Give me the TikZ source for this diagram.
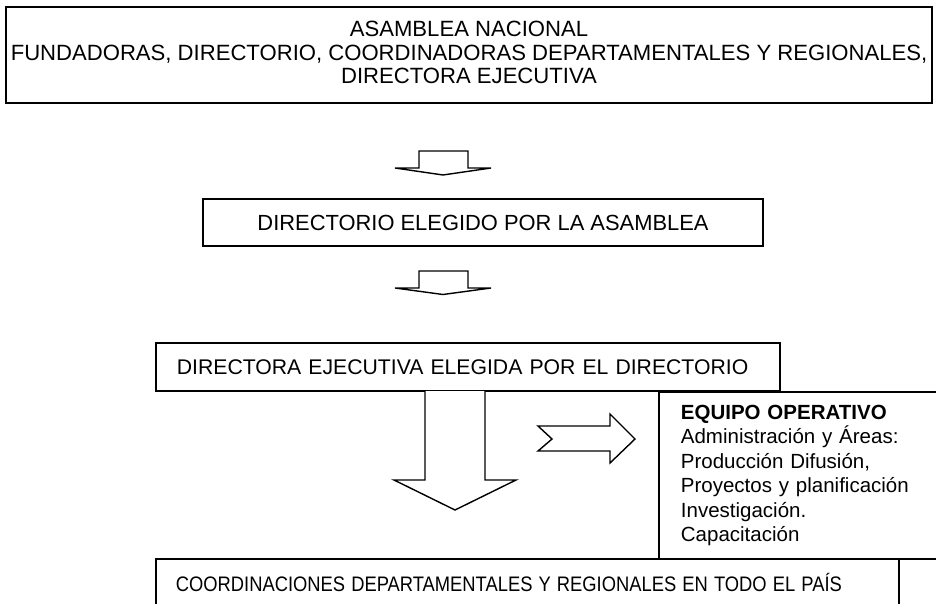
\documentclass[tikz,border=0pt]{standalone}
\usepackage{graphicx}
\usepackage{fontspec}
\setmainfont{Liberation Sans}
\newcommand\fstop{\fontsize{22.1pt}{23.5pt}\selectfont}
\newcommand\fsmid{\fontsize{21.9pt}{23.5pt}\selectfont}
\newcommand\fsdir{\fontsize{21.2pt}{23.5pt}\selectfont}
\newcommand\fsbox{\fontsize{20.5pt}{24.4pt}\selectfont}
\newcommand\fsbottom{\fontsize{21pt}{23.5pt}\selectfont}
\begin{document}
\begin{tikzpicture}[x=1pt,y=-1pt,
  box/.style={draw,line width=1.8pt,inner sep=0pt},
  plain/.style={inner sep=0pt},
  blockarrow/.style={draw,line width=1.4pt,line join=miter}]
\useasboundingbox (0,0) rectangle (936,604);
\clip (0,0) rectangle (936,604);

% top box
\node[box,minimum width=926pt,minimum height=96pt] (asamblea) at (469,55) {};
\node[plain,align=center,font=\fstop] (asambleatext) at (469,52.5)
  {ASAMBLEA NACIONAL\\FUNDADORAS, DIRECTORIO, COORDINADORAS DEPARTAMENTALES Y REGIONALES,\\DIRECTORA EJECUTIVA};

% arrow 1
\draw[blockarrow] (419,168) -- (419,151) -- (468,151) -- (468,168) -- (491,168) -- (443,175) -- (395,168) -- cycle;

% box 2
\node[box,minimum width=560pt,minimum height=47pt,font=\fsmid]
  (directorio) at (483,222.5) {DIRECTORIO ELEGIDO POR LA ASAMBLEA};

% arrow 2
\draw[blockarrow] (419,288) -- (419,271) -- (468,271) -- (468,288) -- (491,288) -- (443,294.5) -- (395,288) -- cycle;

% box 3
\node[box,anchor=west,minimum height=48pt,text width=582pt,inner xsep=21pt,align=left,font=\fsdir]
  (directora) at (155,367) {DIRECTORA EJECUTIVA ELEGIDA POR EL DIRECTORIO};

% equipo operativo box
\node[box,anchor=north west,minimum height=167pt,text width=280pt,inner xsep=22pt,align=left,font=\fsbox]
  (equipo) at (658,391)
  {\textbf{EQUIPO OPERATIVO}\\Administración y Áreas:\\Producción Difusión,\\Proyectos y planificación\\Investigación.\\Capacitación};

% bottom box
\node[box,anchor=north west,minimum height=48pt,text width=703pt,inner xsep=20pt,align=left,font=\fsbottom]
  (coord) at (155,558) {\scalebox{0.874}[1]{COORDINACIONES DEPARTAMENTALES Y REGIONALES EN TODO EL PAÍS}};

% big down arrow
\draw[blockarrow,fill=white] (425,391) -- (425,480) -- (394,480) -- (455,510) -- (516,480) -- (485,480) -- (485,391);

% right notched arrow
\draw[blockarrow] (538,426) -- (610,426) -- (610,414) -- (635,439) -- (610,463) -- (610,451) -- (538,451) -- (552,439) -- cycle;
\end{tikzpicture}
\end{document}
